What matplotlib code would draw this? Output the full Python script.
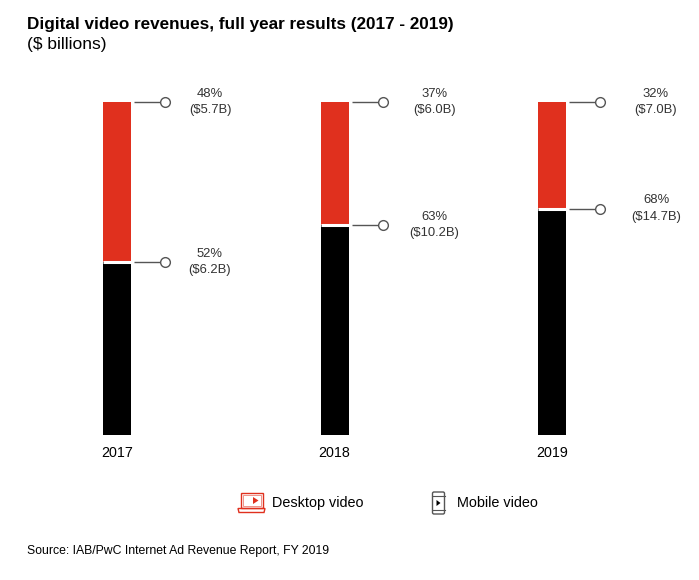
import matplotlib
matplotlib.use("Agg")
import matplotlib.pyplot as plt
from matplotlib.patches import Rectangle, Polygon, FancyBboxPatch

plt.rcParams['font.family'] = ['Liberation Sans', 'DejaVu Sans']

# ---- data ----
years = ["2017", "2018", "2019"]
mobile_pct = [52, 63, 68]
desktop_pct = [48, 37, 32]
mobile_usd = [6.2, 10.2, 14.7]
desktop_usd = [5.7, 6.0, 7.0]

RED = '#e0301e'
GREY = '#555555'
W, H = 699, 580

fig = plt.figure(figsize=(W / 100, H / 100), dpi=100)

# main axes: bar top at y=102px, bottom at y=435px
ax_bottom = 1 - 435 / H
ax_height = (435 - 102) / H
ax = fig.add_axes([0, ax_bottom, 1, ax_height])
px_per_unit = 217.5
x0_px = 117
ax.set_xlim(-x0_px / px_per_unit, (W - x0_px) / px_per_unit)
ax.set_ylim(0, 100)
for s in ax.spines.values():
    s.set_visible(False)
ax.set_yticks([])

xs = list(range(len(years)))
bw = 28 / px_per_unit
ax.bar(xs, mobile_pct, width=bw, color='black', linewidth=0)
ax.bar(xs, desktop_pct, bottom=mobile_pct, width=bw, color=RED, linewidth=0)
ax.hlines(mobile_pct, [x - bw / 2 for x in xs], [x + bw / 2 for x in xs],
          color='white', lw=2.2)

ax.set_xticks(xs)
ax.set_xticklabels(years, fontsize=10.3, color='black')
ax.tick_params(axis='x', length=0, pad=8)

text_off = [93, 100, 104]
for i, x in enumerate(xs):
    right = x + bw / 2
    for yv, pct, usd in [(100, desktop_pct[i], desktop_usd[i]),
                         (mobile_pct[i], mobile_pct[i], mobile_usd[i])]:
        ax.plot([right + 3 / px_per_unit, right + 31 / px_per_unit], [yv, yv],
                color=GREY, lw=1, clip_on=False, solid_capstyle='butt')
        ax.plot([right + 34 / px_per_unit], [yv], marker='o', ms=7,
                mfc='white', mec=GREY, mew=1, clip_on=False)
        ax.text(x + text_off[i] / px_per_unit, yv, f"{pct}%\n(${usd:.1f}B)",
                ha='center', va='center', fontsize=9.4, color='#333333',
                linespacing=1.5, clip_on=False)

# overlay axes in pixel coordinates for title, legend, source
ov = fig.add_axes([0, 0, 1, 1], facecolor='none')
ov.set_xlim(0, W)
ov.set_ylim(H, 0)
ov.axis('off')

ov.text(27, 24, "Digital video revenues, full year results (2017 - 2019)",
        fontsize=12.3, fontweight='bold', va='center', ha='left', color='black')
ov.text(27, 44, "($ billions)", fontsize=12.5, va='center', ha='left', color='black')

# desktop icon
ov.add_patch(Rectangle((240.5, 492.5), 22, 15.5, fill=False, ec=RED, lw=1))
ov.add_patch(Rectangle((242.5, 494.5), 18, 11.5, fill=False, ec=RED, lw=0.6, alpha=0.6))
ov.add_patch(Polygon([(238, 508.5), (265, 508.5), (264, 512.5), (239, 512.5)],
                     closed=True, fill=False, ec=RED, lw=1))
ov.add_patch(Polygon([(253, 497), (258.5, 500.5), (253, 504)], closed=True,
                     fc=RED, ec='none'))
ov.text(272, 503, "Desktop video", fontsize=10.4, va='center', ha='left', color='black')

# mobile icon
ov.add_patch(FancyBboxPatch((432.5, 492), 12, 22, boxstyle="round,pad=0,rounding_size=1.5",
                            fill=False, ec=GREY, lw=1))
ov.plot([432.5, 444.5], [496, 496], color=GREY, lw=0.8)
ov.plot([432.5, 444.5], [510, 510], color=GREY, lw=0.8)
ov.add_patch(Polygon([(436.5, 500), (440.5, 503), (436.5, 506)], closed=True,
                     fc='black', ec='none'))
ov.text(457, 503, "Mobile video", fontsize=10.4, va='center', ha='left', color='black')

ov.text(27, 551, "Source: IAB/PwC Internet Ad Revenue Report, FY 2019",
        fontsize=8.8, va='center', ha='left', color='black')

fig.savefig("out.png", dpi=100, facecolor='white')
